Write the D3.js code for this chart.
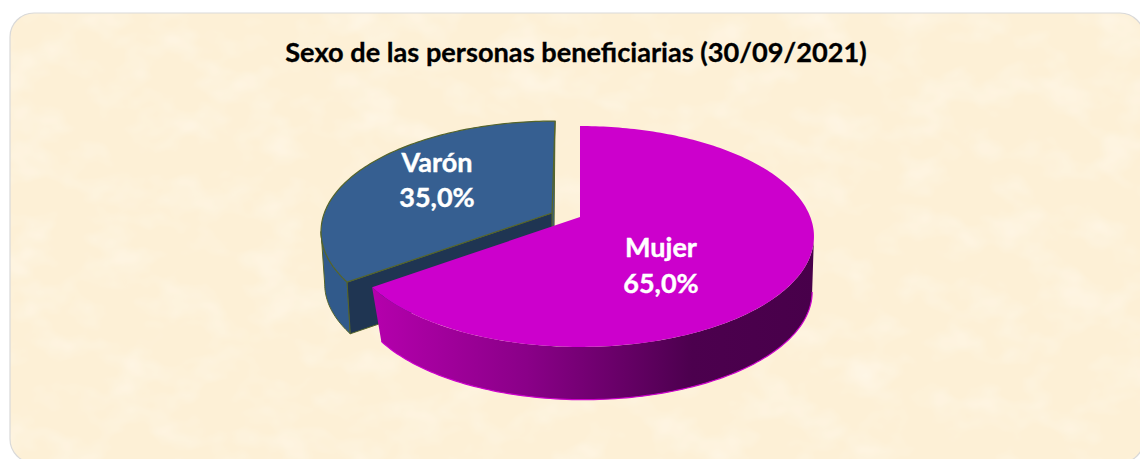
<!DOCTYPE html>
<html><head><meta charset="utf-8">
<script src="https://cdn.jsdelivr.net/npm/d3@7"></script>
<style>html,body{margin:0;padding:0;background:#fff;overflow:hidden}svg{display:block}text{font-family:Lato,"Open Sans",sans-serif;font-weight:700}</style>
</head><body><svg id="c" width="1140" height="459"></svg>
<script>
const categories = ["Mujer", "Varón"];
const values = [65, 35];
const labels = ["65,0%", "35,0%"];
const chartTitle = "Sexo de las personas beneficiarias (30/09/2021)";

const svg = d3.select("#c");
const defs = svg.append("defs");

// parchment texture
const f = defs.append("filter").attr("id","tex").attr("x",0).attr("y",0).attr("width","100%").attr("height","100%");
f.append("feTurbulence").attr("type","fractalNoise").attr("baseFrequency","0.02 0.028").attr("numOctaves",3).attr("seed",7);
f.append("feColorMatrix").attr("type","matrix").attr("values","0 0 0 0 1  0 0 0 0 0.97  0 0 0 0 0.91  1.1 0 0 0 -0.5");
defs.append("clipPath").attr("id","panel").append("rect").attr("x",10).attr("y",13).attr("width",1134).attr("height",450).attr("rx",24);

svg.append("rect").attr("x",10).attr("y",13).attr("width",1134).attr("height",450).attr("rx",24).attr("fill","#fdf0d6");
svg.append("rect").attr("x",10).attr("y",13).attr("width",1134).attr("height",450).attr("clip-path","url(#panel)").attr("filter","url(#tex)");
svg.append("rect").attr("x",10).attr("y",13).attr("width",1134).attr("height",450).attr("rx",24).attr("fill","none").attr("stroke","#d9d9d9").attr("stroke-width",1.2);

svg.append("text").attr("x",576).attr("y",62).attr("text-anchor","middle").attr("font-size",27.2).attr("fill","#000").attr("stroke","#000").attr("stroke-width",0.3).text(chartTitle);

// perspective projection of a pie lying flat
const k = 0.1765, a = 107, b = 230.3;
function proj(angle, r, ox, oy, s){
  const u = r*Math.sin(angle), v = r*Math.cos(angle), w = 1 + k*v;
  return [ox + s*b*u/w, oy - s*a*v/w];
}
const pie = d3.pie().sort(null).value(d=>d)(values);
const line = d3.line();
function rim(a0,a1,ox,oy,s){
  const n = Math.max(2,Math.ceil(Math.abs(a1-a0)/0.02)), p=[];
  d3.range(n+1).forEach(i=>p.push(proj(a0+(a1-a0)*i/n,1,ox,oy,s)));
  return p;
}
const sideAngle = Math.acos(-k); // angle where the rim is widest on screen

// Varón (exploded)
const vTop=[555,212], vBot=[554,265], vS=0.98;
const V = pie[1];
const vStroke = "#55642a";
const blueTop="#365f91", blueDark="#1f3552";
const vFront = proj(V.startAngle,1,vTop[0],vTop[1],1);
const vFrontB = proj(V.startAngle,1,vBot[0],vBot[1],vS);
const vCorner = proj(V.endAngle,1,vTop[0],vTop[1],1);
const wallA1 = 2*Math.PI - sideAngle;
const upper = rim(V.startAngle,wallA1,vTop[0],vTop[1],1);
const lower = rim(V.startAngle,wallA1,vBot[0],vBot[1],vS).reverse();
svg.append("path").attr("d",line(upper.concat(lower))+"Z").attr("fill","#315a8b").attr("stroke",vStroke).attr("stroke-width",1);
// back side wall strip
const inner = vTop[0]-3;
svg.append("path").attr("d",line([vCorner,[vTop[0]-1,vTop[1]+20],[inner,vTop[1]+20],[inner,vTop[1]]])+"Z").attr("fill",blueTop).attr("stroke",vStroke).attr("stroke-width",1);
// cut wall
svg.append("path").attr("d",line([[inner,vTop[1]+1],vFront,vFrontB,[inner,vBot[1]]])+"Z").attr("fill",blueDark).attr("stroke",vStroke).attr("stroke-width",1);
// top face
svg.append("path").attr("d",line([[inner,vTop[1]+1]].concat(rim(V.startAngle,V.endAngle,vTop[0],vTop[1],1)))+"Z").attr("fill",blueTop).attr("stroke",vStroke).attr("stroke-width",1.2);

// Mujer
const mTop=[580,217], mBot=[584,273], mS=0.975;
const M = pie[0];
const g = defs.append("linearGradient").attr("id","mw").attr("gradientUnits","userSpaceOnUse").attr("x1",375).attr("x2",815).attr("y1",0).attr("y2",0);
[[0,"#b400ac"],[0.345,"#8a0088"],[0.573,"#650065"],[0.72,"#4c004e"],[1,"#48004a"]].forEach(s=>g.append("stop").attr("offset",s[0]).attr("stop-color",s[1]));
const mU = rim(M.endAngle,sideAngle,mTop[0],mTop[1],1);
const mL = rim(M.endAngle,sideAngle,mBot[0],mBot[1],mS);
svg.append("path").attr("d",line(mU.concat(mL.slice().reverse()))+"Z").attr("fill","url(#mw)");
svg.append("path").attr("d",line(mL)).attr("fill","none").attr("stroke","#cc00cc").attr("stroke-width",1.2);
svg.append("path").attr("d",line([mTop].concat(rim(M.startAngle,M.endAngle,mTop[0],mTop[1],1)))+"Z").attr("fill","#cc00cc");

// labels
const lab = [[661,[257,293]],[437,[172,207]]];
categories.forEach((c,i)=>{
  const t = svg.append("text").attr("text-anchor","middle").attr("fill","#fff").attr("stroke","#fff").attr("stroke-width",0.4).attr("font-size",27);
  t.append("tspan").attr("x",lab[i][0]).attr("y",lab[i][1][0]).text(c);
  t.append("tspan").attr("x",lab[i][0]).attr("y",lab[i][1][1]).text(labels[i]);
});
</script></body></html>
